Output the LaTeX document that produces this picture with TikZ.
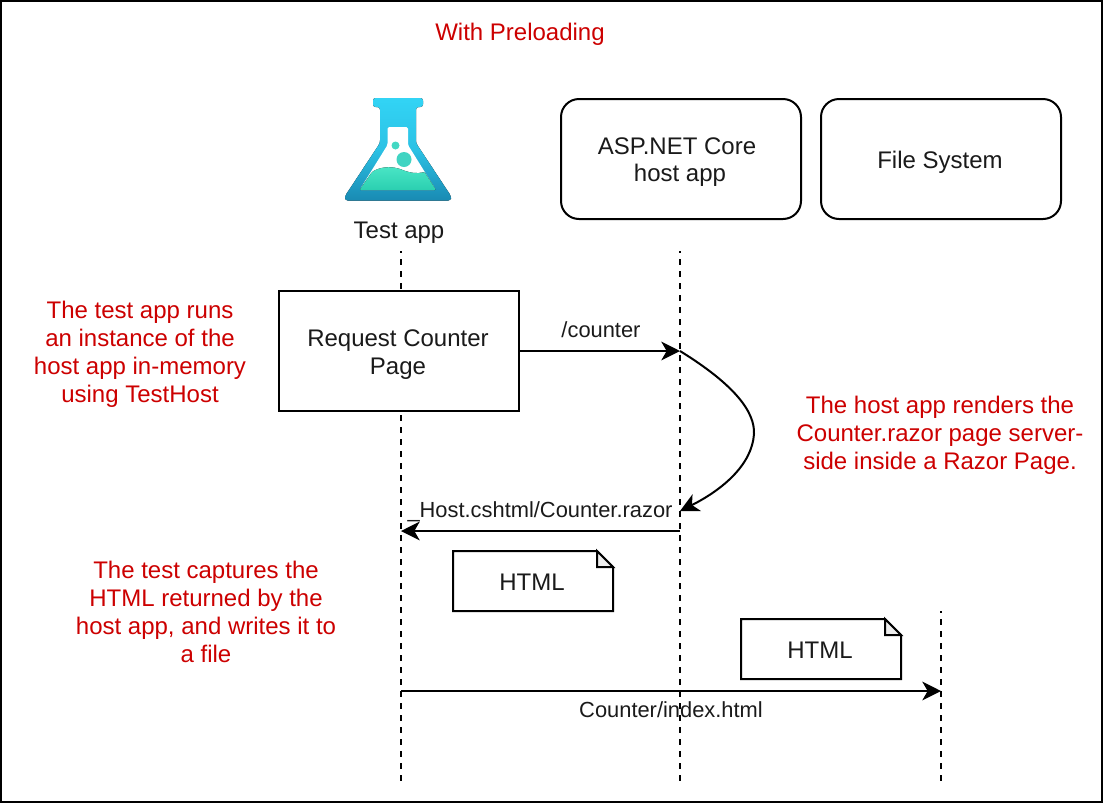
\documentclass[tikz,border=0pt]{standalone}
\usepackage{fontspec}
\setmainfont{Liberation Sans}
\usetikzlibrary{arrows.meta,shadings}
\definecolor{redtxt}{HTML}{CC0000}
\definecolor{txtblk}{HTML}{1A1A1A}
\definecolor{flasktop}{HTML}{32D4F5}
\definecolor{flaskbot}{HTML}{198AB3}
\definecolor{liqtop}{HTML}{4AE6C6}
\definecolor{liqbot}{HTML}{2BCFB0}
\tikzset{
  x=0.75pt,y=-0.75pt,
  ln/.style={line width=1.5pt,draw=black},
  life/.style={line width=1.6pt,draw=black,dash pattern=on 4.5pt off 4.5pt,dash phase=3pt},
  arr/.style={ln,-{Stealth[length=14pt,width=14pt,inset=4pt]}},
  box/.style={ln,fill=white,minimum width=180pt,minimum height=90pt,inner sep=0pt,anchor=north west},
  rbox/.style={box,rounded corners=13.5pt},
  note/.style={ln,fill=white,line join=miter},
  red/.style={text=redtxt,align=center,font=\fontsize{18}{21}\selectfont,inner sep=0pt},
  blk/.style={text=txtblk,align=center,font=\fontsize{18}{21}\selectfont,inner sep=0pt},
  lab/.style={text=txtblk,align=center,font=\fontsize{16.4}{19}\selectfont,inner sep=0pt},
}
\begin{document}
\begin{tikzpicture}
\useasboundingbox (0,0) rectangle (1104,804);
\draw[ln] (0.5,0.5) rectangle (1101.5,801.5);

% lifelines
\coordinate (t0) at (401,251); \coordinate (t1) at (401,781);
\coordinate (h0) at (680,251); \coordinate (h1) at (680,781);
\coordinate (f0) at (941,611); \coordinate (f1) at (941,781);
\draw[life] (t0) -- (t1);
\draw[life] (h0) -- (h1);
\draw[life] (f0) -- (f1);

% flask icon
\fill[top color=flasktop,bottom color=flaskbot,middle color=flasktop!75!flaskbot,rounded corners=2pt]
  (373,98) -- (423,98) -- (423,107) -- (416,107) -- (416,143) -- (451,196) -- (451,200.5) -- (345,200.5) -- (345,196) -- (380,143) -- (380,107) -- (373,107) -- cycle;
\fill[white,rounded corners=1.2pt]
  (387.5,127) -- (408,127) -- (408,145) -- (436,190) -- (359.5,190) -- (387.5,145) -- cycle;
\fill[top color=liqtop,bottom color=liqbot,rounded corners=0.8pt]
  (359.5,190) -- (372,172) .. controls (380,167) and (390,166) .. (400,169) .. controls (410,173) and (417,174) .. (424.5,172) -- (436,190) -- cycle;
\fill[liqtop!85!flaskbot] (395.5,145.5) circle (4);
\fill[liqtop!80!flaskbot] (404,159.5) circle (7.5);

% nodes
\node[blk] (tapp) at (399,233) {Test app};
\node[rbox] (host) at (560,98) {};
\node[blk] (hostA) at (677,146.5) {ASP.NET Core};
\node[blk] (hostB) at (680,175) {host app};
\node[rbox] (fs) at (820,98) {};
\node[blk] (fsT) at (940,162) {File System};
\node[box] (req) at (278,290) {};
\node[blk] (reqT) at (398,355) {Request Counter\\Page};

\node[red] (title) at (520,34) {With Preloading};
\node[red] (n1) at (140,354) {The test app runs\\an instance of the\\host app in-memory\\using TestHost};
\node[red] (n2) at (940,435) {The host app renders the\\Counter.razor page server-\\side inside a Razor Page.};
\node[red] (n3) at (206,612) {The test captures the\\HTML returned by the\\host app, and writes it to\\a file};

% notes
\draw[note] (453,551) -- (597,551) -- (613,567) -- (613,611) -- (453,611) -- cycle;
\draw[ln,fill=black!7] (597,551) -- (597,567) -- (613,567) -- cycle;
\node[blk] (html1) at (532,582) {HTML};
\draw[note] (741,619) -- (885,619) -- (901,635) -- (901,679) -- (741,679) -- cycle;
\draw[ln,fill=black!7] (885,619) -- (885,635) -- (901,635) -- cycle;
\node[blk] (html2) at (820,650) {HTML};

% connectors
\coordinate (h351) at (680,351);
\coordinate (h511) at (680,511);
\coordinate (h531) at (680,531);
\coordinate (t531) at (401,531);
\coordinate (t691) at (401,691);
\coordinate (f691) at (941,691);
\draw[arr] (req.east|-h351) -- (h351);
\draw[arr] (h351) .. controls (735,385) and (755,412) .. (754,434) .. controls (752,465) and (722,490) .. (h511);
\draw[arr] (h531) -- (t531);
\draw[arr] (t691) -- (f691);

\node[lab] (l1) at (601,330) {/counter};
\node[lab] (l2) at (540,512) {\_Host.cshtml/Counter.razor};
\node[lab] (l3) at (671,710) {Counter/index.html};
\end{tikzpicture}
\end{document}
